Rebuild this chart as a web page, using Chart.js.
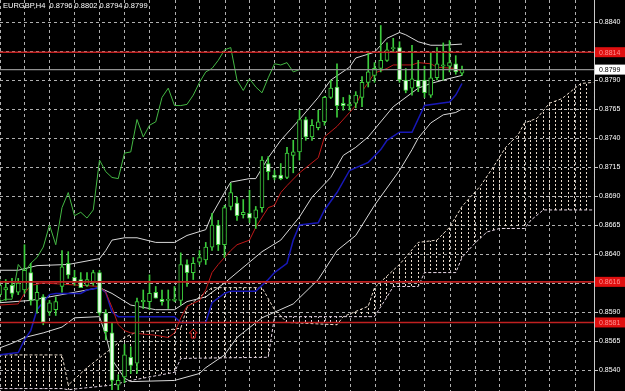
<!DOCTYPE html>
<html><head><meta charset="utf-8">
<script src="https://cdn.jsdelivr.net/npm/chart.js@4.4.1/dist/chart.umd.min.js"></script>
<style>html,body{margin:0;padding:0;background:#000;overflow:hidden}</style>
</head><body>
<canvas id="c" width="625" height="391"></canvas>
<script>
// ---------- data ----------
const chartTitle = 'EURGBP,H4  0.8796 0.8802 0.8794 0.8799';
const opens  = [0.8605,0.8609,0.8613,0.8607,0.8609,0.8624,0.8600,0.8603,0.8590,0.8592,0.8612,0.8632,0.8620,0.8618,0.8613,0.8615,0.8624,0.8589,0.8572,0.8527,0.8534,0.8551,0.8546,0.8599,0.8599,0.8607,0.8601,0.8600,0.8600,0.8600,0.8631,0.8624,0.8633,0.8635,0.8646,0.8665,0.8648,0.8681,0.8684,0.8674,0.8675,0.8671,0.8680,0.8718,0.8708,0.8708,0.8706,0.8725,0.8728,0.8756,0.8741,0.8749,0.8754,0.8775,0.8784,0.8770,0.8768,0.8770,0.8775,0.8788,0.8794,0.8800,0.8807,0.8817,0.8818,0.8790,0.8783,0.8790,0.8790,0.8777,0.8792,0.8802,0.8802,0.8804,0.8796];
const highs  = [0.8618,0.8618,0.8619,0.8619,0.8648,0.8632,0.8613,0.8605,0.8600,0.8603,0.8643,0.8642,0.8626,0.8624,0.8624,0.8626,0.8626,0.8592,0.8581,0.8536,0.8562,0.8560,0.8602,0.8609,0.8622,0.8612,0.8609,0.8609,0.8612,0.8641,0.8635,0.8637,0.8643,0.8650,0.8675,0.8669,0.8682,0.8701,0.8689,0.8687,0.8695,0.8681,0.8724,0.8724,0.8712,0.8718,0.8732,0.8738,0.8764,0.8758,0.8756,0.8764,0.8776,0.8790,0.8804,0.8775,0.8777,0.8780,0.8793,0.8814,0.8805,0.8837,0.8822,0.8826,0.8823,0.8800,0.8820,0.8807,0.8802,0.8813,0.8818,0.8822,0.8824,0.8811,0.8802];
const lows   = [0.8600,0.8600,0.8603,0.8605,0.8606,0.8596,0.8589,0.8579,0.8587,0.8587,0.8607,0.8619,0.8613,0.8612,0.8612,0.8613,0.8587,0.8566,0.8523,0.8523,0.8529,0.8537,0.8537,0.8593,0.8592,0.8602,0.8596,0.8593,0.8599,0.8596,0.8612,0.8618,0.8631,0.8631,0.8643,0.8643,0.8637,0.8678,0.8669,0.8671,0.8667,0.8662,0.8676,0.8704,0.8704,0.8704,0.8705,0.8710,0.8721,0.8738,0.8738,0.8747,0.8751,0.8774,0.8758,0.8764,0.8764,0.8766,0.8767,0.8784,0.8788,0.8797,0.8806,0.8814,0.8788,0.8779,0.8777,0.8780,0.8775,0.8775,0.8790,0.8790,0.8797,0.8795,0.8794];
const closes = [0.8613,0.8611,0.8606,0.8615,0.8626,0.8600,0.8607,0.8581,0.8598,0.8599,0.8629,0.8622,0.8616,0.8611,0.8618,0.8624,0.8589,0.8573,0.8531,0.8531,0.8553,0.8544,0.8599,0.8600,0.8606,0.8602,0.8599,0.8601,0.8601,0.8631,0.8624,0.8632,0.8637,0.8646,0.8665,0.8648,0.8680,0.8693,0.8673,0.8676,0.8671,0.8678,0.8721,0.8711,0.8706,0.8705,0.8727,0.8728,0.8756,0.8741,0.8751,0.8754,0.8775,0.8783,0.8768,0.8768,0.8769,0.8777,0.8788,0.8797,0.8800,0.8807,0.8816,0.8818,0.8790,0.8781,0.8791,0.8784,0.8779,0.8792,0.8804,0.8803,0.8805,0.8797,0.8799];

const bbUpperBars = [0,3,6,11,16,17,18,20,22,25,28,30,33,34,36,37,40,41,43,45,48,51,53,56,57,60,62,64,65,67,69,71,74];
const bbUpper     = [0.8626,0.8626,0.8630,0.8631,0.8636,0.8643,0.8652,0.8654,0.8654,0.8650,0.8650,0.8656,0.8661,0.8674,0.8693,0.8702,0.8705,0.8705,0.8723,0.8738,0.8756,0.8775,0.8790,0.8801,0.8809,0.8814,0.8826,0.8831,0.8829,0.8823,0.8820,0.8820,0.8821];
const bbMiddleBars = [0,5,11,16,18,21,25,28,30,33,36,38,42,45,48,50,53,55,57,59,63,67,69,71,74];
const bbMiddle     = [0.8598,0.8600,0.8606,0.8611,0.8606,0.8596,0.8592,0.8592,0.8599,0.8603,0.8615,0.8624,0.8642,0.8652,0.8672,0.8689,0.8706,0.8725,0.8732,0.8741,0.8767,0.8783,0.8787,0.8790,0.8794];
const bbLowerBars = [0,2,4,7,10,12,16,17,18,20,21,28,30,32,33,36,38,42,47,51,54,57,60,64,66,67,69,71,73,74];
const bbLower     = [0.8559,0.8563,0.8568,0.8572,0.8577,0.8585,0.8586,0.8570,0.8549,0.8533,0.8530,0.8531,0.8534,0.8537,0.8542,0.8553,0.8568,0.8585,0.8597,0.8618,0.8643,0.8656,0.8682,0.8712,0.8730,0.8740,0.8753,0.8760,0.8762,0.8765];

const tenkanBars = [0,3,4,5,7,16,17,18,19,20,21,25,27,28,29,30,32,33,34,35,37,38,40,41,43,44,45,46,48,51,52,54,56,57,58,60,62,63,66,67,69,70,73,74];
const tenkan     = [0.8596,0.8597,0.8606,0.8613,0.8615,0.8612,0.8607,0.8594,0.8579,0.8574,0.8572,0.8570,0.8568,0.8572,0.8585,0.8595,0.8600,0.8609,0.8624,0.8631,0.8643,0.8648,0.8652,0.8663,0.8680,0.8682,0.8693,0.8699,0.8710,0.8723,0.8741,0.8750,0.8762,0.8768,0.8780,0.8796,0.8800,0.8803,0.8803,0.8805,0.8804,0.8801,0.8800,0.8797];
const kijunBars = [0,3,4,5,6,8,9,13,14,16,17,18,19,28,29,33,34,36,37,41,43,44,46,47,48,51,52,54,56,59,61,62,64,66,68,72,73,74];
const kijun     = [0.8553,0.8555,0.8566,0.8574,0.8592,0.8605,0.8606,0.8606,0.8609,0.8611,0.8607,0.8590,0.8586,0.8586,0.8581,0.8581,0.8598,0.8606,0.8608,0.8608,0.8618,0.8624,0.8632,0.8652,0.8665,0.8667,0.8678,0.8693,0.8712,0.8719,0.8730,0.8738,0.8745,0.8745,0.8768,0.8771,0.8777,0.8787];
const chikouShift = 26;

const spanABars = [0,10,11,14,18,20,22,26,29,30,32,34,42,44,46,54,55,59,60,63,64,67,70,72,74,77,79,81,83,84,86,88,90,93,95];
const spanA     = [0.8553,0.8553,0.8527,0.8542,0.8559,0.8568,0.8573,0.8574,0.8576,0.8594,0.8603,0.8611,0.8611,0.8592,0.8581,0.8579,0.8586,0.8595,0.8611,0.8626,0.8631,0.8650,0.8652,0.8663,0.8681,0.8699,0.8715,0.8732,0.8743,0.8753,0.8757,0.8770,0.8774,0.8787,0.8788];
const spanBBars = [0,10,11,18,21,28,29,43,44,60,62,63,67,68,73,74,76,78,80,84,85,87,95];
const spanB     = [0.8524,0.8524,0.8523,0.8527,0.8531,0.8538,0.8550,0.8551,0.8586,0.8586,0.8603,0.8612,0.8612,0.8624,0.8624,0.8637,0.8649,0.8659,0.8662,0.8662,0.8669,0.8678,0.8678];

const yTickValues = [0.8540,0.8565,0.8590,0.8615,0.8640,0.8665,0.8690,0.8715,0.8740,0.8765,0.8790,0.8815,0.8840];
const redLevels = [0.8814, 0.8616, 0.8581];
const bidPrice = 0.8799;
const arrowMark = {bar: 31, price: 0.8571};

// ---------- view / style ----------
const xMin = 0.08, xMax = 95.12, yMin = 0.85219, yMax = 0.88590;
const barsPerGrid = 4;
const C = {
  grid: '#b0b0b0', axis: '#c8c8c8', text: '#ffffff',
  candle: '#3ccc3c', bullBody: '#000000', bearBody: '#eaffea',
  tenkan: '#c01818', kijun: '#1818b8', chikou: '#44b844', bb: '#d8d8d8',
  spanA: '#eadccc', spanB: '#e6d6e6', level: '#c02020', bid: '#909090'
};

function makeHatch(color) {
  const c = document.createElement('canvas'); c.width = 25; c.height = 4;
  const g = c.getContext('2d'); g.fillStyle = color;
  [24, 5, 11, 18].forEach(px => g.fillRect(px, 0, 1, 2));
  return g.createPattern(c, 'repeat');
}
const pts = (xs, ys) => xs.map((x, k) => ({x, y: ys[k]}));
const lineDs = (label, data, color, order, extra) => Object.assign({
  type: 'line', label, data, borderColor: color, borderWidth: 1, pointRadius: 0,
  tension: 0, fill: false, order
}, extra || {});

const idx = opens.map((_, i) => i);
const datasets = [
  lineDs('Senkou A', pts(spanABars, spanA), C.spanA, 20,
    {borderDash: [3, 2], fill: {target: 1, above: makeHatch(C.spanA), below: makeHatch(C.spanB)}}),
  lineDs('Senkou B', pts(spanBBars, spanB), C.spanB, 21, {borderDash: [3, 2]}),
  lineDs('BB upper', pts(bbUpperBars, bbUpper), C.bb, 12),
  lineDs('BB middle', pts(bbMiddleBars, bbMiddle), C.bb, 12),
  lineDs('BB lower', pts(bbLowerBars, bbLower), C.bb, 12),
  lineDs('Kijun', pts(kijunBars, kijun), C.kijun, 11, {borderWidth: 1.5}),
  lineDs('Tenkan', pts(tenkanBars, tenkan), C.tenkan, 10),
  lineDs('Chikou', closes.slice(chikouShift).map((v, j) => ({x: j, y: v})), C.chikou, 10),
  {type: 'bar', label: 'wick', data: idx.map(i => ({x: i, y: [lows[i], highs[i]]})),
   backgroundColor: C.candle, borderWidth: 0, barThickness: 1, maxBarThickness: 1, grouped: false, order: 6},
  {type: 'bar', label: 'body', data: idx.map(i => ({x: i, y: [opens[i], closes[i]]})),
   backgroundColor: idx.map(i => closes[i] >= opens[i] ? C.bullBody : C.bearBody),
   borderColor: C.candle, borderWidth: 1, borderSkipped: false,
   barThickness: 4, maxBarThickness: 4, grouped: false, order: 5},
  ...redLevels.map(v => lineDs('level', [{x: xMin, y: v}, {x: xMax, y: v}], C.level, 2, {borderWidth: 1.6})),
  lineDs('bid', [{x: xMin, y: bidPrice}, {x: xMax, y: bidPrice}], C.bid, 3, {borderWidth: 1.4})
];

const overlay = {
  id: 'overlay',
  afterDraw(chart) {
    const {ctx, scales: {x, y}} = chart;
    ctx.save();
    const ax = x.getPixelForValue(arrowMark.bar), ay = y.getPixelForValue(arrowMark.price);
    ctx.strokeStyle = '#e02020'; ctx.lineWidth = 1;
    ctx.beginPath();
    ctx.moveTo(ax, ay - 5); ctx.lineTo(ax + 4, ay - 1); ctx.lineTo(ax + 2, ay - 1); ctx.lineTo(ax + 2, ay + 4);
    ctx.lineTo(ax - 2, ay + 4); ctx.lineTo(ax - 2, ay - 1); ctx.lineTo(ax - 4, ay - 1); ctx.closePath(); ctx.stroke();
    ctx.font = '7px "Liberation Sans", Arial, sans-serif'; ctx.textBaseline = 'middle'; ctx.textAlign = 'left';
    const box = (v, bg, fg) => {
      const py = y.getPixelForValue(v);
      ctx.fillStyle = bg; ctx.fillRect(x.right + 1, py - 5, chart.width - x.right - 1, 10);
      ctx.fillStyle = fg; ctx.fillText(v.toFixed(4), x.right + 5, py + 0.5);
    };
    redLevels.forEach(v => box(v, '#e01010', '#ff9090'));
    box(bidPrice, '#ffffff', '#000000');
    ctx.font = '7.5px "Liberation Sans", Arial, sans-serif'; ctx.fillStyle = C.text; ctx.textBaseline = 'top';
    ctx.fillText(chartTitle, 3, 2);
    ctx.restore();
  }
};

new Chart(document.getElementById('c'), {
  type: 'line',
  data: {datasets},
  options: {
    responsive: false, animation: false, devicePixelRatio: 1,
    layout: {padding: 0},
    plugins: {legend: {display: false}, tooltip: {enabled: false}},
    scales: {
      x: {type: 'linear', min: xMin, max: xMax, offset: false,
          afterBuildTicks: s => { const t = []; for (let v = xMin; v <= xMax; v += barsPerGrid) t.push({value: v}); s.ticks = t; },
          ticks: {display: false}, grid: {color: C.grid, drawTicks: false, offset: false},
          border: {display: false, dash: [3, 3]},
          afterFit: s => { s.height = 0; s.paddingLeft = 0; s.paddingRight = 0; }},
      y: {type: 'linear', position: 'right', min: yMin, max: yMax,
          afterBuildTicks: s => { s.ticks = yTickValues.map(v => ({value: v})); },
          ticks: {color: C.text, font: {family: '"Liberation Sans", Arial, sans-serif', size: 7}, padding: 1,
                  callback: v => Number(v).toFixed(4)},
          grid: {color: C.grid, tickLength: 4, tickColor: C.axis},
          border: {display: true, color: C.axis, width: 1, dash: [3, 3]},
          afterFit: s => { s.width = 31; s.paddingTop = 0; s.paddingBottom = 0; }}
    }
  },
  plugins: [overlay]
});
</script>
</body></html>
